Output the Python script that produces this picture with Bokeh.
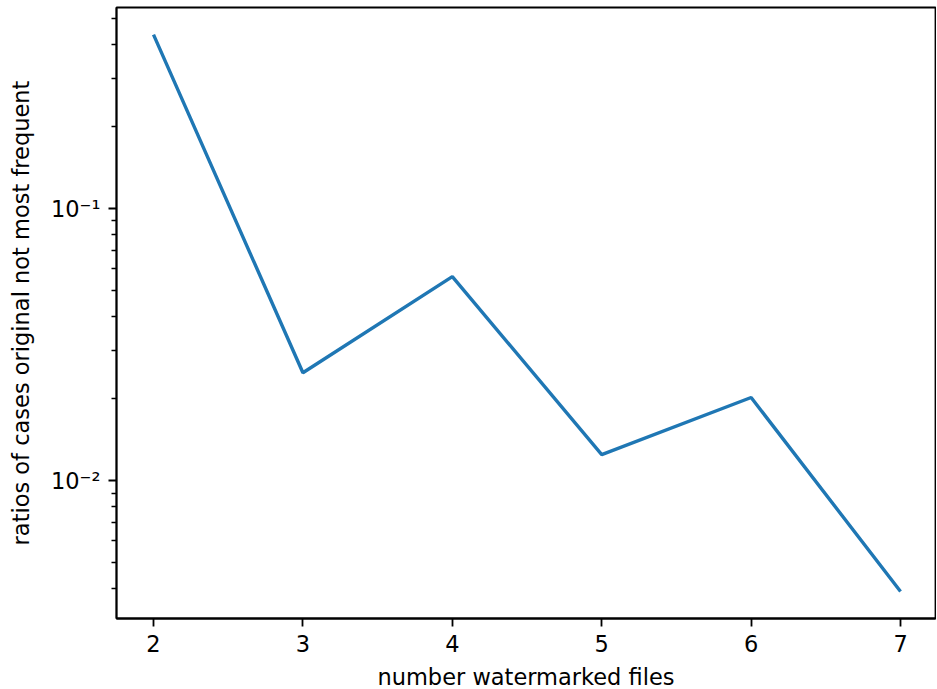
from bokeh.plotting import figure
from bokeh.models import FixedTicker, CustomJSTickFormatter, Range1d
from bokeh.embed import file_html
from bokeh.resources import INLINE

# data
num_files = [2, 3, 4, 5, 6, 7]
ratios = [0.436, 0.0249, 0.0562, 0.01246, 0.0202, 0.00391]

x_ticks = [2, 3, 4, 5, 6, 7]
y_major = [0.001, 0.01, 0.1, 1.0]
y_minor = [m * d for d in [0.001, 0.01, 0.1] for m in range(2, 10)]

FONT = "DejaVu Sans"
FS = "22.5px"

p = figure(
    frame_width=819, frame_height=611,
    min_border_left=116, min_border_right=1,
    min_border_top=7, min_border_bottom=70,
    x_range=Range1d(1.7523, 7.234),
    y_range=Range1d(10 ** -2.507, 10 ** -0.261),
    y_axis_type="log",
    output_backend="svg", toolbar_location=None,
    background_fill_color="white", border_fill_color="white",
)

p.line(num_files, ratios, line_color="#1f77b4", line_width=3.4)

p.grid.visible = False
p.outline_line_color = "black"
p.outline_line_width = 1.8
p.outline_line_alpha = 1.0

p.xaxis.ticker = FixedTicker(ticks=x_ticks)
p.yaxis.ticker = FixedTicker(ticks=y_major, minor_ticks=y_minor)
p.yaxis.formatter = CustomJSTickFormatter(code="""
const e = Math.round(Math.log10(tick));
const sup = {'-':'\u207b','0':'\u2070','1':'\u00b9','2':'\u00b2','3':'\u00b3','4':'\u2074','5':'\u2075','6':'\u2076','7':'\u2077','8':'\u2078','9':'\u2079'};
return '10' + String(e).split('').map(c => sup[c]).join('');
""")

for ax in (p.xaxis, p.yaxis):
    ax.axis_line_color = "black"
    ax.axis_line_width = 1.8
    ax.major_tick_line_color = "black"
    ax.major_tick_line_width = 1.8
    ax.major_tick_out = 8
    ax.major_tick_in = 0
    ax.minor_tick_line_color = "black"
    ax.minor_tick_line_width = 1.4
    ax.minor_tick_out = 5
    ax.minor_tick_in = 0
    ax.major_label_text_font = FONT
    ax.major_label_text_font_size = FS
    ax.major_label_text_color = "black"
    ax.axis_label_text_font = FONT
    ax.axis_label_text_font_size = FS
    ax.axis_label_text_font_style = "normal"
    ax.axis_label_text_color = "black"

p.xaxis.minor_tick_line_color = None
p.xaxis.axis_label = "number watermarked files"
p.yaxis.axis_label = "ratios of cases original not most frequent"
p.xaxis.major_label_standoff = 8
p.xaxis.axis_label_standoff = 9
p.yaxis.major_label_standoff = 8
p.yaxis.axis_label_standoff = 14

open("out.html", "w").write(file_html(p, INLINE))
